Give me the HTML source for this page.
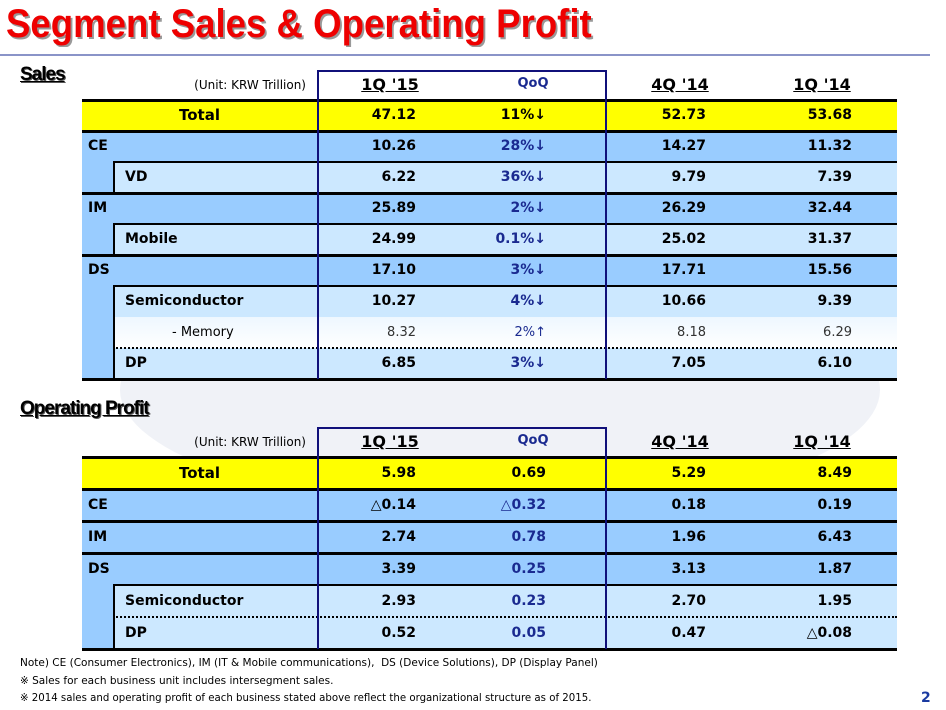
<!DOCTYPE html>
<html><head><meta charset="utf-8"><style>
body{margin:0;width:946px;height:710px;overflow:hidden;background:#fff;font-family:"DejaVu Sans","Liberation Sans",sans-serif;position:relative}
.a{position:absolute}
</style></head><body>
<div class="a" style="left:120px;top:270px;width:760px;height:240px;border-radius:50%;background:#f0f2f7"></div>
<div class="a" style="left:6px;top:2px;font-family:'Liberation Sans',sans-serif;font-weight:bold;font-size:40px;color:#ee0000;text-shadow:2px 2px 0 #999;transform:scaleX(0.915);transform-origin:left top;white-space:nowrap">Segment Sales &amp; Operating Profit</div>
<div class="a" style="left:0;top:54px;width:930px;height:2px;background:#8a94c8"></div>
<div class="a" style="left:20px;top:64px;font-family:'Liberation Sans',sans-serif;font-weight:bold;font-size:19px;text-decoration:underline;text-shadow:1px 1px 0 #555;letter-spacing:-1px">Sales</div>
<div class="a" style="left:20px;top:398px;font-family:'Liberation Sans',sans-serif;font-weight:bold;font-size:19px;text-decoration:underline;text-shadow:1px 1px 0 #555;letter-spacing:-1px">Operating Profit</div>
<div id="root"></div>
<div class="a" style="left:20px;top:657px;font-size:10.5px;white-space:nowrap">Note) CE (Consumer Electronics), IM (IT &amp; Mobile communications),&nbsp; DS (Device Solutions), DP (Display Panel)</div>
<div class="a" style="left:20px;top:675px;font-size:10.5px;white-space:nowrap">※ Sales for each business unit includes intersegment sales.</div>
<div class="a" style="left:20px;top:692px;font-size:10.5px;white-space:nowrap;transform:scaleX(0.97);transform-origin:left top">※ 2014 sales and operating profit of each business stated above reflect the organizational structure as of 2015.</div>
<div class="a" style="left:921px;top:690px;font-size:14px;font-weight:bold;color:#1a3aa0">2</div>
<script>
const headers=["1Q '15","QoQ","4Q '14","1Q '14"];
const salesLabels=["Total","CE","VD","IM","Mobile","DS","Semiconductor","- Memory","DP"];
const salesLevels=[-1,0,1,0,1,0,1,2,1];
const sales1Q15=["47.12","10.26","6.22","25.89","24.99","17.10","10.27","8.32","6.85"];
const salesQoQ=["11%↓","28%↓","36%↓","2%↓","0.1%↓","3%↓","4%↓","2%↑","3%↓"];
const sales4Q14=["52.73","14.27","9.79","26.29","25.02","17.71","10.66","8.18","7.05"];
const sales1Q14=["53.68","11.32","7.39","32.44","31.37","15.56","9.39","6.29","6.10"];
const opLabels=["Total","CE","IM","DS","Semiconductor","DP"];
const opLevels=[-1,0,0,0,1,1];
const op1Q15=["5.98","△0.14","2.74","3.39","2.93","0.52"];
const opQoQ=["0.69","△0.32","0.78","0.25","0.23","0.05"];
const op4Q14=["5.29","0.18","1.96","3.13","2.70","0.47"];
const op1Q14=["8.49","0.19","6.43","1.87","1.95","△0.08"];
const root=document.getElementById('root');
function box(parent,l,t,w,h,style){const d=document.createElement('div');d.className='a';d.style.cssText=`left:${l}px;top:${t}px;width:${w}px;height:${h}px;`+(style||'');parent.appendChild(d);return d;}
function table(prefix,top,rowH,labels,levels,c1,c2,c3,c4){
  const L=82,R=897,hdrTop=top,firstTop=top+30;
  const unit=box(root,180,hdrTop+8,126,16,'font-size:12px;text-align:right');
  unit.textContent='(Unit: KRW Trillion)';
  
  
  const hx=[390,533,680,822];
  headers.forEach((h,i)=>{
    const e=box(root,hx[i]-60,hdrTop+(i==1?6:5),120,20,'text-align:center;font-weight:bold;'+(i==1?'font-size:13px;color:#1a2a90':'font-size:16px;text-decoration:underline'));
    e.textContent=h;
    
    
  });
  const endY=firstTop+rowH*labels.length;
  labels.forEach((lab,i)=>{
    const y=firstTop+i*rowH,lv=levels[i];
    const bg=lv==-1?'#ffff00':lv==0?'#99ccff':lv==2?'linear-gradient(#eef7ff,#ffffff)':'#cce8ff';
    if(lv>=1) box(root,L,y,31,rowH,'background:#99ccff');
    const x0=lv>=1?113:L;
    const row=box(root,x0,y,R-x0,rowH,'background:'+bg);
    
    
    if(lv>=1) box(root,113,y,2,rowH,'background:#000');
    if(lv==-1||lv==0||i==1) box(root,L,y-1,R-L,3,'background:#000');
    else if(lv==1&&(levels[i-1]==2||levels[i-1]==1)) box(root,113,y-1,R-113,2,'border-top:2px dotted #000');
    else if(lv==1) box(root,113,y-1,R-113,2,'background:#000');
    const isT=lv==-1;
    const t=box(root,lv==-1?L:lv==0?88:lv==2?120:125,y,lv==-1?235:190,rowH,`line-height:${rowH}px;font-size:${lv==2?13:14}px;font-weight:${lv==2?'normal':'bold'};`+(isT?'text-align:center;font-size:15px':''));
    t.textContent=lab;
    if(lv==2) t.style.paddingLeft='52px';
    
    
    const vals=[c1[i],c2[i],c3[i],c4[i]],rx=[416,546,706,852];
    vals.forEach((v,j)=>{
      const e=box(root,rx[j]-110,y,110,rowH,`text-align:right;line-height:${rowH}px;font-size:${lv==2?13:14}px;font-weight:${lv==2?'normal':'bold'};color:${j==1&&!isT?'#1a2a90':(lv==2?'#333':'#000')}`);
      e.textContent=v;
      
      
    });
  });
  box(root,L,endY-1,R-L,3,'background:#000');
  box(root,317,hdrTop,290,endY-hdrTop,'border:2px solid #10107a;border-bottom:none;box-sizing:border-box;background:transparent');
}
table('sales',70,31,salesLabels,salesLevels,sales1Q15,salesQoQ,sales4Q14,sales1Q14);
table('op',427,32,opLabels,opLevels,op1Q15,opQoQ,op4Q14,op1Q14);
</script>
</body></html>
